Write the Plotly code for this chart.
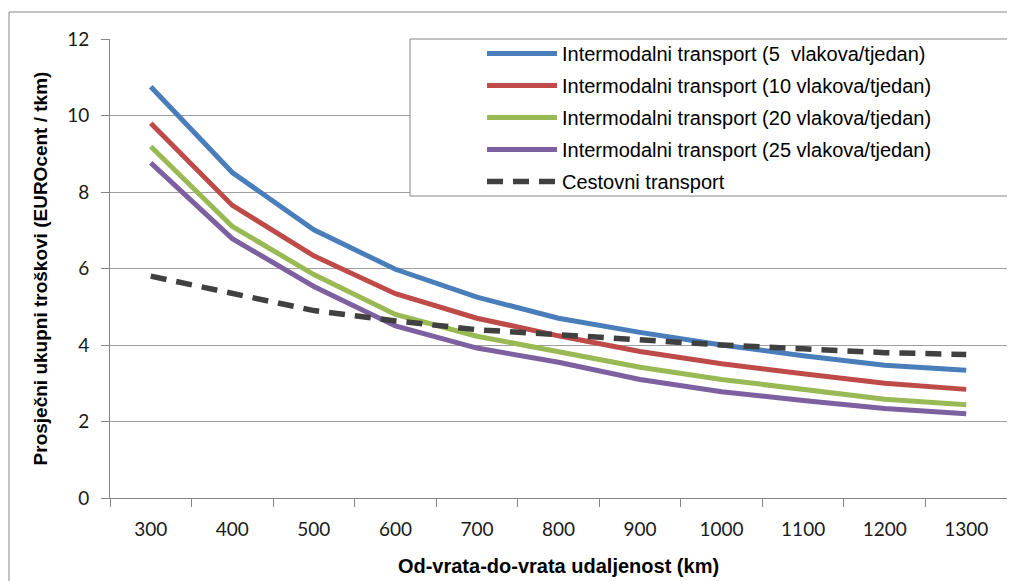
import plotly.graph_objects as go

distances = ["300", "400", "500", "600", "700", "800", "900", "1000", "1100", "1200", "1300"]
names = [
    "Intermodalni transport (5  vlakova/tjedan)",
    "Intermodalni transport (10 vlakova/tjedan)",
    "Intermodalni transport (20 vlakova/tjedan)",
    "Intermodalni transport (25 vlakova/tjedan)",
    "Cestovni transport",
]
inter_5 = [10.75, 8.51, 7.01, 5.98, 5.25, 4.70, 4.33, 4.00, 3.72, 3.47, 3.34]
inter_10 = [9.80, 7.65, 6.33, 5.34, 4.70, 4.24, 3.83, 3.51, 3.25, 3.00, 2.84]
inter_20 = [9.19, 7.10, 5.84, 4.80, 4.23, 3.82, 3.42, 3.10, 2.85, 2.58, 2.44]
inter_25 = [8.76, 6.78, 5.53, 4.50, 3.92, 3.55, 3.10, 2.78, 2.55, 2.34, 2.20]
road = [5.80, 5.35, 4.90, 4.63, 4.40, 4.27, 4.12, 4.00, 3.90, 3.80, 3.75]

series = [inter_5, inter_10, inter_20, inter_25, road]
colors = ["#4A7EBB", "#BE4B48", "#98B954", "#7D60A0", "#404040"]
dashes = ["solid", "solid", "solid", "solid", "16px,10px"]
widths = [5, 5, 5, 5, 5.5]

fig = go.Figure()
for i, (nm, vals) in enumerate(zip(names, series)):
    fig.add_trace(go.Scatter(
        x=distances, y=vals, mode="lines", name=nm, legendgroup=str(i),
        line=dict(color=colors[i], width=widths[i], dash=dashes[i]),
    ))

# page offset of the figure (default body margin)
OFF = 8
W, H = 1007, 573
L, T = 110 - OFF, 39 - OFF
R = W - (1007 - OFF)
B = H - (498 - OFF)
pw, ph = W - L - R, H - T - B

def px(x):
    return (x - OFF - L) / pw

def py(y):
    return (H - B - (y - OFF)) / ph

# outer chart border
fig.add_shape(type="rect", xref="paper", yref="paper",
              x0=px(9), x1=px(1040), y0=py(12), y1=py(620),
              line=dict(color="#868686", width=1), fillcolor="rgba(0,0,0,0)", layer="above")
# legend box
fig.add_shape(type="rect", xref="paper", yref="paper",
              x0=px(410), x1=px(1012), y0=py(39), y1=py(196),
              line=dict(color="#868686", width=1), fillcolor="white", layer="above")

fig.update_layout(
    width=W, height=H,
    margin=dict(l=L, r=R, t=T, b=B),
    paper_bgcolor="white", plot_bgcolor="white",
    font=dict(family="Liberation Sans, Arial, sans-serif", color="#000000"),
    legend=dict(
        x=px(482), y=py(34), xanchor="left", yanchor="top",
        bgcolor="rgba(0,0,0,0)", borderwidth=0,
        font=dict(family="Liberation Sans, Arial, sans-serif", size=20, color="#000000"),
        itemwidth=70, tracegroupgap=3,
    ),
    showlegend=True,
)
fig.update_xaxes(
    type="category", range=[-0.5, 10.5], showgrid=False, showline=True,
    linecolor="#868686", linewidth=1,
    ticks="outside", ticklen=8, tickcolor="#868686", tickson="boundaries",
    tickfont=dict(family="Lato, Open Sans, sans-serif", size=19, color="#1a1a1a"),
    ticklabelstandoff=14,
    title=dict(text="<b>Od-vrata-do-vrata udaljenost (km)</b>",
               font=dict(family="Liberation Sans, Arial, sans-serif", size=20, color="#000000"),
               standoff=20),
    automargin=False,
)
fig.update_yaxes(
    range=[0, 12], dtick=2, showgrid=True, gridcolor="#A0A0A0", gridwidth=1,
    showline=True, linecolor="#868686", linewidth=1, zeroline=False,
    ticks="outside", ticklen=8, tickcolor="#868686",
    tickfont=dict(family="Lato, Open Sans, sans-serif", size=19, color="#1a1a1a"),
    ticklabelstandoff=8,
    title=dict(text="<b>Prosječni ukupni troškovi (EUROcent / tkm)</b>",
               font=dict(family="Liberation Sans, Arial, sans-serif", size=19, color="#000000"),
               standoff=14),
    automargin=False,
)

fig.write_html("out.html")
